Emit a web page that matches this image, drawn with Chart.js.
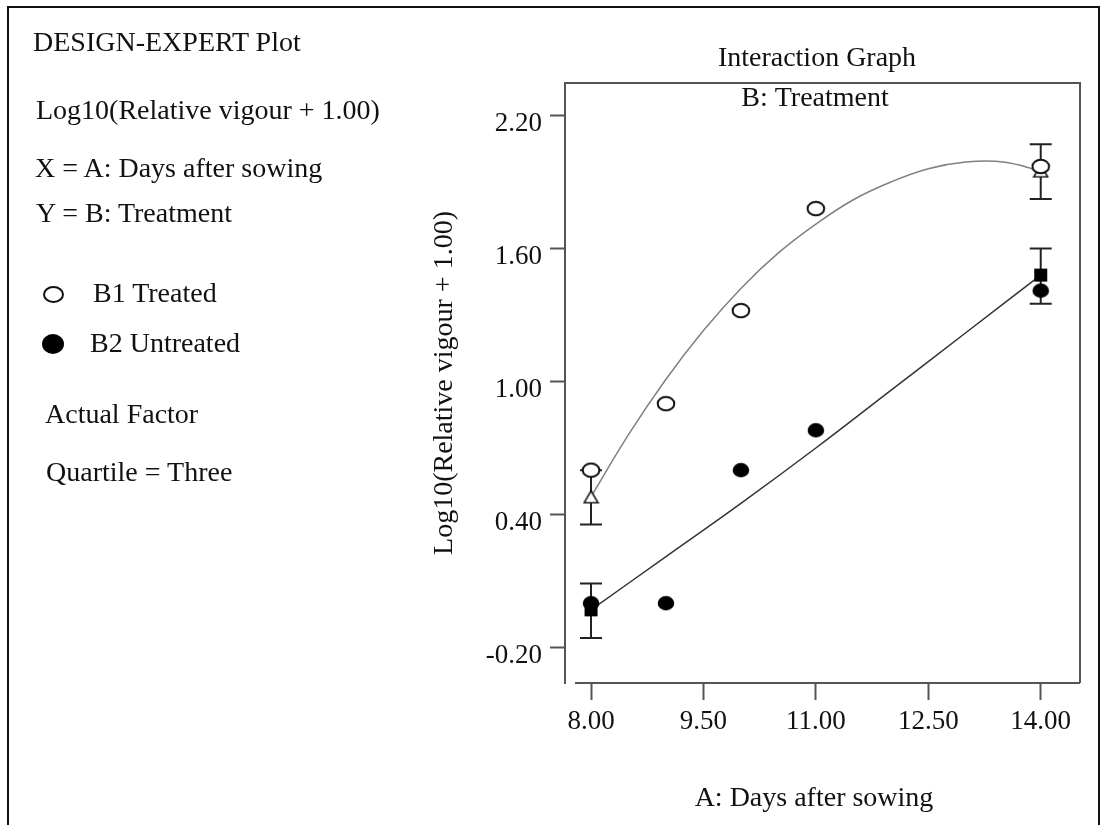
<!DOCTYPE html>
<html><head><meta charset="utf-8">
<script src="https://cdn.jsdelivr.net/npm/chart.js@4.4.0/dist/chart.umd.min.js"></script>
<style>
html,body{margin:0;padding:0;background:#fff;}
#wrap{position:relative;width:1107px;height:825px;overflow:hidden;}
canvas{position:absolute;left:0;top:0;}
.t{position:absolute;font-family:'Liberation Serif','Times New Roman',serif;font-size:28px;line-height:28px;color:#111;white-space:nowrap;}
.m{position:absolute;box-sizing:border-box;border-radius:50%;}
</style></head><body>
<div id="wrap">
<canvas id="c" width="1107" height="825"></canvas>
<div class="t" style="left:33px;top:27.5px">DESIGN-EXPERT Plot</div>
<div class="t" style="left:36px;top:95.5px">Log10(Relative vigour + 1.00)</div>
<div class="t" style="left:35px;top:154px">X = A: Days after sowing</div>
<div class="t" style="left:36px;top:198.5px">Y = B: Treatment</div>
<div class="m" style="left:43px;top:285.5px;width:21px;height:17px;border:2px solid #111;background:#fff"></div>
<div class="t" style="left:93px;top:278.5px">B1 Treated</div>
<div class="m" style="left:42px;top:334px;width:22px;height:20px;background:#000"></div>
<div class="t" style="left:90px;top:328.5px">B2 Untreated</div>
<div class="t" style="left:45px;top:399.5px">Actual Factor</div>
<div class="t" style="left:46px;top:457.5px">Quartile = Three</div>
</div>
<script>
const FONT = "'Liberation Serif','Times New Roman',serif";

// ---- data ----
const xTickValues = [8, 9.5, 11, 12.5, 14];
const yTickValues = [-0.2, 0.4, 1.0, 1.6, 2.2];
const days = [8, 9, 10, 11, 14];
const treatedActual = [0.60, 0.90, 1.32, 1.78, 1.97];
const untreatedActual = [0.00, 0.00, 0.60, 0.78, 1.41];
const fitDaysTreated = [8, 8.5, 9, 9.5, 10, 10.5, 11, 11.5, 12, 12.5, 13, 13.5, 14];
const treatedFit = [0.48, 0.76, 1.01, 1.23, 1.42, 1.58, 1.71, 1.82, 1.90, 1.96, 1.99, 1.99, 1.95];
const fitDaysUntreated = [8, 9, 10, 11, 12, 13, 14];
const untreatedFit = [-0.03, 0.21, 0.45, 0.70, 0.96, 1.22, 1.48];
const lsdDays = [8, 14];
const treatedPred = [0.48, 1.95];
const untreatedPred = [-0.03, 1.48];
const treatedLow = [0.355, 1.823];
const treatedHigh = [0.60, 2.07];
const untreatedLow = [-0.157, 1.351];
const untreatedHigh = [0.089, 1.60];

const pts = (xs, ys) => xs.map((x, i) => ({x: x, y: ys[i]}));

function mk(w, h, draw) {
  const c = document.createElement('canvas');
  c.width = w; c.height = h;
  draw(c.getContext('2d'), w, h);
  return c;
}
const openEll = mk(20, 17, (g, w, h) => {
  g.beginPath(); g.ellipse(w/2, h/2, 8.3, 6.8, 0, 0, Math.PI*2);
  g.fillStyle = '#fff'; g.fill(); g.lineWidth = 2; g.strokeStyle = '#111'; g.stroke();
});
const fillEll = mk(18, 16, (g, w, h) => {
  g.beginPath(); g.ellipse(w/2, h/2, 8.3, 7.2, 0, 0, Math.PI*2);
  g.fillStyle = '#000'; g.fill();
});
const tri = mk(17, 15, (g, w, h) => {
  g.beginPath(); g.moveTo(w/2, 1.5); g.lineTo(w-1.5, h-1.5); g.lineTo(1.5, h-1.5); g.closePath();
  g.fillStyle = '#fff'; g.fill(); g.lineWidth = 1.5; g.strokeStyle = '#111'; g.stroke();
});
const sq = mk(15, 15, (g, w, h) => { g.fillStyle = '#000'; g.fillRect(1, 1, w-2, h-2); });

function drawBars(ctx, xs, ys, xv, lo, hi) {
  ctx.save();
  ctx.strokeStyle = '#222'; ctx.lineWidth = 2;
  xv.forEach((d, i) => {
    const px = xs.getPixelForValue(d);
    const y1 = ys.getPixelForValue(hi[i]);
    const y2 = ys.getPixelForValue(lo[i]);
    ctx.beginPath();
    ctx.moveTo(px, y1); ctx.lineTo(px, y2);
    ctx.moveTo(px - 11, y1); ctx.lineTo(px + 11, y1);
    ctx.moveTo(px - 11, y2); ctx.lineTo(px + 11, y2);
    ctx.stroke();
  });
  ctx.restore();
}

const deco = {
  id: 'deco',
  beforeDatasetsDraw(chart) {
    const {ctx, scales: {x, y}} = chart;
    drawBars(ctx, x, y, lsdDays, treatedLow, treatedHigh);
    drawBars(ctx, x, y, lsdDays, untreatedLow, untreatedHigh);
  },
  afterDraw(chart) {
    const {ctx, chartArea: a} = chart;
    ctx.save();
    ctx.strokeStyle = '#555'; ctx.lineWidth = 2;
    // plot box top and right
    ctx.beginPath();
    ctx.moveTo(a.left, a.top); ctx.lineTo(a.right, a.top); ctx.lineTo(a.right, a.bottom);
    ctx.stroke();
    // x axis line, offset from the y axis
    ctx.beginPath();
    ctx.moveTo(a.left + 10, a.bottom); ctx.lineTo(a.right, a.bottom);
    ctx.stroke();
    // outer frame
    ctx.strokeStyle = '#111'; ctx.lineWidth = 2;
    ctx.beginPath();
    ctx.moveTo(8, 825); ctx.lineTo(8, 7); ctx.lineTo(1099, 7); ctx.lineTo(1099, 825);
    ctx.stroke();
    // titles
    ctx.fillStyle = '#111';
    ctx.font = '28px ' + FONT;
    ctx.textAlign = 'center'; ctx.textBaseline = 'alphabetic';
    ctx.fillText('Interaction Graph', 817, 66);
    ctx.fillText('B: Treatment', 815, 106);
    ctx.fillText('A: Days after sowing', 814, 806);
    ctx.restore();
  }
};

new Chart(document.getElementById('c'), {
  type: 'line',
  data: {
    datasets: [
      { label: 'B1 Treated (fit)', data: pts(fitDaysTreated, treatedFit), borderColor: '#808080',
        borderWidth: 1.5, pointRadius: 0, tension: 0.4, fill: false, order: 5 },
      { label: 'B2 Untreated (fit)', data: pts(fitDaysUntreated, untreatedFit), borderColor: '#333',
        borderWidth: 1.5, pointRadius: 0, tension: 0.4, fill: false, order: 5 },
      { label: 'B1 predicted', data: pts(lsdDays, treatedPred), showLine: false,
        pointStyle: tri, pointRadius: 8, order: 3 },
      { label: 'B2 predicted', data: pts(lsdDays, untreatedPred), showLine: false,
        pointStyle: sq, pointRadius: 8, order: 3 },
      { label: 'B1 Treated', data: pts(days, treatedActual), showLine: false,
        pointStyle: openEll, pointRadius: 9, order: 1 },
      { label: 'B2 Untreated', data: pts(days, untreatedActual), showLine: false,
        pointStyle: fillEll, pointRadius: 9, order: 1 }
    ]
  },
  options: {
    responsive: false,
    animation: false,
    events: [],
    layout: { padding: { left: 400, right: 27, top: 83, bottom: 0 } },
    plugins: { legend: { display: false }, tooltip: { enabled: false }, title: { display: false } },
    scales: {
      x: {
        type: 'linear', min: 7.653, max: 14.524,
        afterBuildTicks: s => { s.ticks = xTickValues.map(v => ({value: v})); },
        afterFit: s => { s.height = 142; },
        ticks: { callback: v => Number(v).toFixed(2), font: { family: FONT, size: 27, lineHeight: 1 },
                 color: '#111', padding: 8, maxRotation: 0, autoSkip: false },
        grid: { display: true, drawOnChartArea: false, drawTicks: true, tickLength: 17,
                tickColor: '#555', tickWidth: 2 },
        border: { display: false },
        title: { display: false }
      },
      y: {
        type: 'linear', min: -0.36, max: 2.3466,
        afterBuildTicks: s => { s.ticks = yTickValues.map(v => ({value: v})); },
        afterFit: s => { s.width = 165; },
        ticks: { callback: v => Number(v).toFixed(2), font: { family: FONT, size: 27, lineHeight: 1 },
                 color: '#111', padding: 8, labelOffset: 8, autoSkip: false },
        grid: { display: true, drawOnChartArea: false, drawTicks: true, tickLength: 15,
                tickColor: '#555', tickWidth: 2 },
        border: { display: true, color: '#555', width: 2 },
        title: { display: true, text: 'Log10(Relative vigour + 1.00)', color: '#111',
                 font: { family: FONT, size: 28, lineHeight: 1 }, padding: { top: 31, bottom: 0 } }
      }
    }
  },
  plugins: [deco]
});
</script>
</body></html>
